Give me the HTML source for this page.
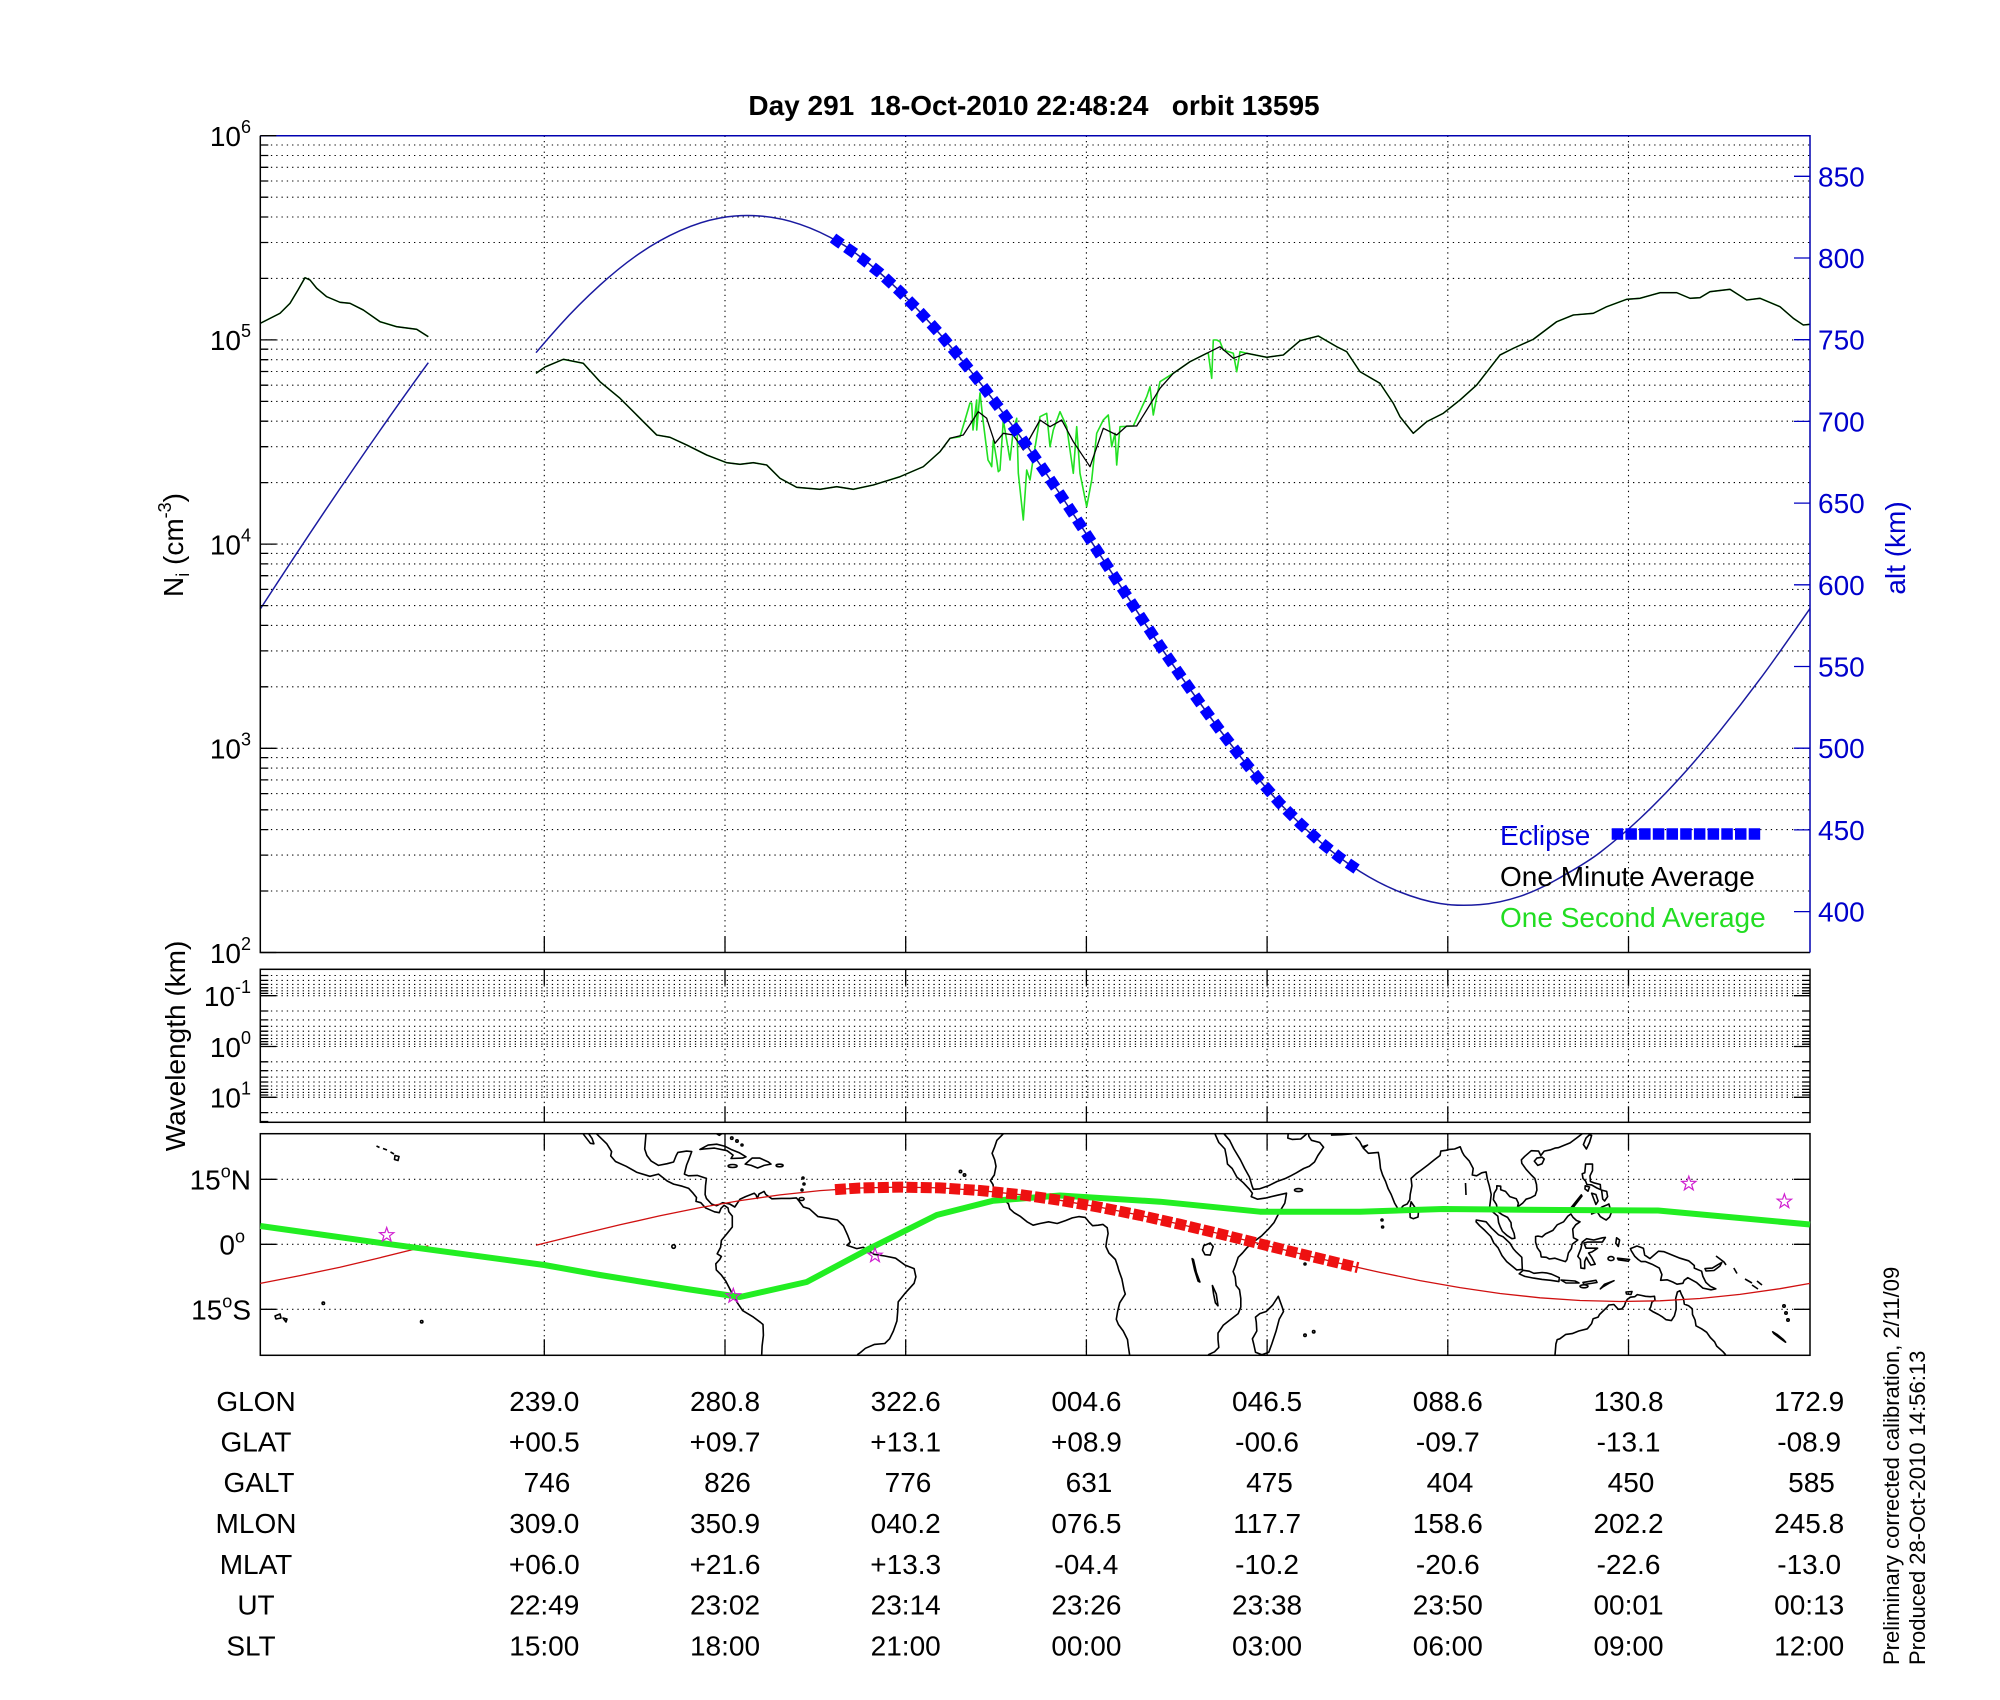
<!DOCTYPE html>
<html><head><meta charset="utf-8"><style>
html,body{margin:0;padding:0;background:#fff;}
svg{display:block;}
text{font-family:"Liberation Sans",Arial,sans-serif;font-size:28px;}
</style></head><body>
<svg width="2000" height="1700" viewBox="0 0 2000 1700" xmlns="http://www.w3.org/2000/svg">
<rect x="0" y="0" width="2000" height="1700" fill="#fff"/>

<!-- ============ GRIDS ============ -->
<g fill="none" stroke="#000" stroke-width="1.1" stroke-dasharray="1.3 4">
<path d="M260.3 145H1810M260.3 155.5H1810M260.3 167.3H1810M260.3 181H1810M260.3 197.2H1810M260.3 217H1810M260.3 242.5H1810M260.3 278.4H1810M260.3 339.9H1810
M260.3 349.2H1810M260.3 359.7H1810M260.3 371.5H1810M260.3 385.2H1810M260.3 401.4H1810M260.3 421.2H1810M260.3 446.7H1810M260.3 482.6H1810M260.3 544.1H1810
M260.3 553.4H1810M260.3 563.9H1810M260.3 575.7H1810M260.3 589.4H1810M260.3 605.6H1810M260.3 625.4H1810M260.3 650.9H1810M260.3 686.8H1810M260.3 748.3H1810
M260.3 757.6H1810M260.3 768.1H1810M260.3 779.9H1810M260.3 793.6H1810M260.3 809.8H1810M260.3 829.6H1810M260.3 855.1H1810M260.3 891H1810"/>
<path d="M544.3 135.7V952.5M725 135.7V952.5M905.7 135.7V952.5M1086.4 135.7V952.5M1267.1 135.7V952.5M1447.8 135.7V952.5M1628.5 135.7V952.5"/>
<path d="M260.3 975.5H1810M260.3 980.4H1810M260.3 984.4H1810M260.3 987.8H1810M260.3 990.8H1810M260.3 993.4H1810M260.3 995.7H1810
M260.3 1011H1810M260.3 1019.9H1810M260.3 1026.3H1810M260.3 1031.2H1810M260.3 1035.2H1810M260.3 1038.6H1810M260.3 1041.6H1810M260.3 1044.2H1810M260.3 1046.5H1810
M260.3 1061.8H1810M260.3 1070.7H1810M260.3 1077.1H1810M260.3 1082H1810M260.3 1086H1810M260.3 1089.4H1810M260.3 1092.4H1810M260.3 1095H1810M260.3 1097.3H1810M260.3 1112.6H1810"/>
<path d="M544.3 969.3V1122.3M725 969.3V1122.3M905.7 969.3V1122.3M1086.4 969.3V1122.3M1267.1 969.3V1122.3M1447.8 969.3V1122.3M1628.5 969.3V1122.3"/>
<path d="M260.3 1179.3H1810M260.3 1244.3H1810M260.3 1309.3H1810"/>
<path d="M544.3 1133.7V1355.3M725 1133.7V1355.3M905.7 1133.7V1355.3M1086.4 1133.7V1355.3M1267.1 1133.7V1355.3M1447.8 1133.7V1355.3M1628.5 1133.7V1355.3"/>
</g>

<!-- ============ TOP PANEL DATA ============ -->
<!-- altitude -->
<g fill="none" stroke="#1a1aa0" stroke-width="1.5" stroke-linejoin="round">
<path d="M260.3,609 C316,523 372,440 428.3,362.7"/>
<path d="M536,352.7 C544,343.1 552,333.9 560,325.1 C573.3,310.4 586.7,297.2 600,285.1 C613.3,273 626.7,262.2 640,253.1 C653.3,244 666.7,236.6 680,230.7 C693.3,224.8 706.7,220.4 720,218 C733.3,215.6 746.7,215 760,216 C773.3,217.1 786.7,219.8 800,224.3 C813.3,228.8 826.7,235 840,242.8 C853.3,250.6 866.7,261.4 880,273 C893.3,284.6 906.7,297.7 920,312 C933.3,326.3 946.7,341.5 960,357.8 C973.3,374.1 986.7,390.9 1000,408.8 C1013.3,426.7 1026.7,445.2 1040,464.5 C1053.3,483.8 1066.7,504 1080,524.3 C1093.3,544.6 1106.7,564.9 1120,585.3 C1133.3,605.7 1146.7,626.2 1160,645.9 C1173.3,665.6 1186.7,684.5 1200,703 C1213.3,721.5 1226.7,739.3 1240,756.1 C1253.3,772.9 1266.7,789.2 1280,803.5 C1293.3,817.8 1306.7,830.3 1320,841.7 C1333.3,853.1 1346.7,863.1 1360,871.5 C1373.3,879.9 1386.7,886.7 1400,892 C1413.3,897.3 1426.7,901.3 1440,903.5 C1453.3,905.7 1466.7,905.7 1480,904.6 C1493.3,903.6 1506.7,900.8 1520,896.3 C1533.3,891.8 1546.7,885.5 1560,877.7 C1573.3,869.9 1586.7,862.8 1600,852.5 C1613.3,842.2 1626.7,831.1 1640,818.5 C1653.3,805.9 1666.7,792.5 1680,777.8 C1693.3,763.1 1706.7,747.3 1720,730.8 C1733.3,714.3 1746.7,697 1760,679.1 C1776.7,656.8 1793.3,632.4 1810,608.6"/>
</g>
<!-- one second avg (green) -->
<g fill="none" stroke="#22e022" stroke-width="1.6" stroke-linejoin="round">
<path d="M260.3,323.3 L280,313.3 290,303.3 298,290 305,277.7 310,280 316.7,288.3 326.7,296.7 340,302.3 350,303.3 363.3,310 380,321.7 396.7,326.7 416.7,329.3 428.3,336.7"/>
<path d="M536,373.3 L545,367 563.3,359.3 583.3,363.3 600,381.7 620,398.3 636.7,415 656.7,435 670,437.3 686.7,445 706.7,455 726.7,462.7 740,464.3 753.3,462.7 766.7,465 780,478.3 796.7,487.3 820,489.3 836.7,486.7 853.3,489.3 873.3,485 900,476.7 923.3,466.7 940,451.7 950,438.3 960,436.7 965,420 970,403 971.7,403.3 973,430 976.7,400 976.7,430 980,393 983,420 988,460 990,463.3 991.7,466.7 993.3,440 996.7,460 998.3,471.7 1000,470 1003.3,420 1010,460 1013.3,430 1016.7,418.3 1018.3,473 1023.3,520 1026.7,470 1030,480 1033,460 1040,416.7 1046.7,413.3 1050,446.7 1053.3,430 1060,411.7 1066.7,426.7 1073.3,473.3 1076.7,426.7 1080,473.3 1086.7,506.7 1091.7,480 1096.7,433.3 1103.3,420 1108.3,415 1111.7,446.7 1115,433.3 1116.7,465 1120,426.7 1133.3,426 1146.7,396.7 1150,386.7 1153.3,415 1156.7,396.7 1160,381.7 1173.3,373.3 1190,361.7 1206.7,353.3 1208.3,353.3 1211.7,378.3 1213.3,340 1216.7,340 1220,341.7 1223.3,350 1233.3,353.3 1236.7,371.7 1240,351.7 1246.7,353.3 1266.7,357.3 1283.3,355 1300,340.7 1318.3,336 1336.7,346.7 1346.7,351.7 1360,371.7 1380,383.3 1393.3,403.3 1400,416.7 1413.3,433.3 1426.7,421.7 1443.3,413.3 1460,400 1476.7,385 1500,355 1513.3,348.3 1533.3,339.3 1556.7,321.7 1573.3,315 1593.3,313.3 1606.7,306.7 1626.7,299.3 1640,298.3 1660,292.7 1676.7,292.7 1690,298.3 1700,297.7 1710,291.7 1730,289.3 1746.7,300 1760,298.3 1780,306.7 1793.3,318.3 1803.3,325 1810,324.3"/>
</g>
<!-- one minute avg (black) -->
<g fill="none" stroke="#000" stroke-width="1.3" stroke-linejoin="round">
<path d="M260.3,323.3 L280,313.3 290,303.3 298,290 305,277.7 310,280 316.7,288.3 326.7,296.7 340,302.3 350,303.3 363.3,310 380,321.7 396.7,326.7 416.7,329.3 428.3,336.7"/>
<path d="M536,373.3 L545,367 563.3,359.3 583.3,363.3 600,381.7 620,398.3 636.7,415 656.7,435 670,437.3 686.7,445 706.7,455 726.7,462.7 740,464.3 753.3,462.7 766.7,465 780,478.3 796.7,487.3 820,489.3 836.7,486.7 853.3,489.3 873.3,485 900,476.7 923.3,466.7 940,451.7 950,438.3 963.3,435 978.3,411.7 986.7,418.3 995,443.3 1003.3,433.3 1013.3,435 1023.3,450 1040,420 1050,426.7 1061.7,420 1073.3,441.7 1090,466.7 1103.3,428.3 1116.7,435 1126.7,426 1136.7,426 1146.7,410 1160,388.3 1173.3,373.3 1190,361.7 1206.7,353.3 1220,346.7 1233.3,358.3 1246.7,353.3 1266.7,357.3 1283.3,355 1300,340.7 1318.3,336 1336.7,346.7 1346.7,351.7 1360,371.7 1380,383.3 1393.3,403.3 1400,416.7 1413.3,433.3 1426.7,421.7 1443.3,413.3 1460,400 1476.7,385 1500,355 1513.3,348.3 1533.3,339.3 1556.7,321.7 1573.3,315 1593.3,313.3 1606.7,306.7 1626.7,299.3 1640,298.3 1660,292.7 1676.7,292.7 1690,298.3 1700,297.7 1710,291.7 1730,289.3 1746.7,300 1760,298.3 1780,306.7 1793.3,318.3 1803.3,325 1810,324.3"/>
</g>
<!-- eclipse markers -->
<path d="M833,238 L838,241.7 860,257 880,273 900,291.6 920,312 940,334 960,357.8 980,382.6 1000,408.8 1020,436 1040,464.5 1060,494 1080,524.3 1100,554.8 1120,585.3 1140,615.8 1160,645.9 1180,674.8 1200,703 1220,730.2 1240,756.1 1260,780.6 1280,803.5 1300,823.5 1320,841.7 1340,857.7 1358,870" fill="none" stroke="#0000ff" stroke-width="11" stroke-dasharray="10.5 5.8"/>

<!-- legend -->
<text x="1500" y="845" fill="#0000dd">Eclipse</text>
<path d="M1611.7 834H1762" stroke="#0000ff" stroke-width="11.5" stroke-dasharray="11.5 2.2" fill="none"/>
<text x="1500" y="886" fill="#000">One Minute Average</text>
<text x="1500" y="927" fill="#22dd22">One Second Average</text>

<!-- ============ AXES / TICKS ============ -->
<g fill="none" stroke="#000" stroke-width="1.5">
<path d="M260.3 135.7V952.5H1810"/>
<rect x="260.3" y="969.3" width="1549.7" height="153"/>
<rect x="260.3" y="1133.7" width="1549.7" height="221.6"/>
</g>
<path d="M260.3 135.7H1810V952.5" fill="none" stroke="#0000b0" stroke-width="1.5"/>
<g fill="none" stroke="#000" stroke-width="1.3">
<path d="M260.3 135.7h16M260.3 339.9h16M260.3 544.1h16M260.3 748.3h16M260.3 952.5h16
M260.3 145h8M260.3 155.5h8M260.3 167.3h8M260.3 181h8M260.3 197.2h8M260.3 217h8M260.3 242.5h8M260.3 278.4h8
M260.3 349.2h8M260.3 359.7h8M260.3 371.5h8M260.3 385.2h8M260.3 401.4h8M260.3 421.2h8M260.3 446.7h8M260.3 482.6h8
M260.3 553.4h8M260.3 563.9h8M260.3 575.7h8M260.3 589.4h8M260.3 605.6h8M260.3 625.4h8M260.3 650.9h8M260.3 686.8h8
M260.3 757.6h8M260.3 768.1h8M260.3 779.9h8M260.3 793.6h8M260.3 809.8h8M260.3 829.6h8M260.3 855.1h8M260.3 891h8"/>
<path d="M544.3 952.5v-16M725 952.5v-16M905.7 952.5v-16M1086.4 952.5v-16M1267.1 952.5v-16M1447.8 952.5v-16M1628.5 952.5v-16"/>
<path d="M544.3 969.3v16M725 969.3v16M905.7 969.3v16M1086.4 969.3v16M1267.1 969.3v16M1447.8 969.3v16M1628.5 969.3v16
M544.3 1122.3v-16M725 1122.3v-16M905.7 1122.3v-16M1086.4 1122.3v-16M1267.1 1122.3v-16M1447.8 1122.3v-16M1628.5 1122.3v-16
M260.3 995.7h16M260.3 1046.5h16M260.3 1097.3h16M1810 995.7h-16M1810 1046.5h-16M1810 1097.3h-16
M260.3 975.5h8M260.3 980.4h8M260.3 984.4h8M260.3 987.8h8M260.3 990.8h8M260.3 993.4h8
M260.3 1011h8M260.3 1019.9h8M260.3 1026.3h8M260.3 1031.2h8M260.3 1035.2h8M260.3 1038.6h8M260.3 1041.6h8M260.3 1044.2h8
M260.3 1061.8h8M260.3 1070.7h8M260.3 1077.1h8M260.3 1082h8M260.3 1086h8M260.3 1089.4h8M260.3 1092.4h8M260.3 1095h8M260.3 1112.6h8M260.3 1121.5h8
M1810 975.5h-8M1810 980.4h-8M1810 984.4h-8M1810 987.8h-8M1810 990.8h-8M1810 993.4h-8
M1810 1011h-8M1810 1019.9h-8M1810 1026.3h-8M1810 1031.2h-8M1810 1035.2h-8M1810 1038.6h-8M1810 1041.6h-8M1810 1044.2h-8
M1810 1061.8h-8M1810 1070.7h-8M1810 1077.1h-8M1810 1082h-8M1810 1086h-8M1810 1089.4h-8M1810 1092.4h-8M1810 1095h-8M1810 1112.6h-8"/>
<path d="M544.3 1133.7v16M725 1133.7v16M905.7 1133.7v16M1086.4 1133.7v16M1267.1 1133.7v16M1447.8 1133.7v16M1628.5 1133.7v16
M544.3 1355.3v-16M725 1355.3v-16M905.7 1355.3v-16M1086.4 1355.3v-16M1267.1 1355.3v-16M1447.8 1355.3v-16M1628.5 1355.3v-16
M260.3 1179.3h16M260.3 1244.3h16M260.3 1309.3h16M1810 1179.3h-16M1810 1244.3h-16M1810 1309.3h-16"/>
</g>
<path d="M1810 176.3h-16M1810 258h-16M1810 339.7h-16M1810 421.4h-16M1810 503.1h-16M1810 584.8h-16M1810 666.5h-16M1810 748.2h-16M1810 829.9h-16M1810 911.6h-16" stroke="#0000c0" stroke-width="1.3" fill="none"/>

<!-- ============ MAP ============ -->
<g fill="none" stroke="#000" stroke-width="1.6" stroke-linejoin="round">
<path d="M376.5,1146 L379.5,1147.5M383,1148.5 L387,1150M390.5,1152 L394,1154M395,1155.5 L399,1156.5 398,1160.5 394.5,1159.5Z"/>
<path d="M275,1316 L280,1314 281,1318 276,1319Z M283,1318 L287,1319 286,1322Z"/>
<circle cx="323.3" cy="1303.3" r="1.2"/><circle cx="421.7" cy="1321.7" r="1.2"/>
<path d="M583.1,1133.8 L590.4,1143.3 593.9,1143.8 592.1,1138.6 588.7,1133.8"/>
<path d="M596.5,1133.8 L606.8,1143.8 611.6,1151.6 610.7,1155.9 615.5,1161.5 626.2,1166.3 637,1172.4 649.9,1176.3 658.5,1174.1 667.2,1181 673.6,1184.1 682.2,1186.2 688.7,1188.4 693.1,1193.2 696.5,1197.5 696,1201.4 700.8,1202.7 705.5,1207.9 708.5,1209.2 714.5,1211.8 719.3,1212.7 721,1208.3 724.1,1205.3 728,1207.9 728.8,1211.8 732.3,1216.1 732.3,1227 727.1,1233.5 721.4,1240.4 720.6,1247.3 717.2,1253.8 721.4,1256.4 719.7,1259.5 715.8,1263.8 716.3,1269.9 721.4,1275.1 725.8,1281.1 731.4,1292 737.4,1302.8 742.6,1310.6 753.4,1317.1 760.4,1322.3 763,1324.5 763.4,1335.3 762.1,1346.1 761.7,1354.8"/>
<path d="M646,1133.8 L644.7,1149 646.9,1155.5 651.2,1161.1 658.5,1165.4 667.2,1163.7 673.6,1162 676.2,1155.5 677.9,1152.4 686.6,1151.1 691.7,1151.6 688.7,1159.8 686.6,1165 684.4,1174.1 688.3,1175.8 697.3,1175.4 706.4,1178.4 705.5,1185.8 705.1,1194.5 706.4,1198.4 711.5,1204 716.7,1205.7 722.7,1202.7 729.7,1204 734.8,1207 740,1199.2 745.6,1196.6 754.2,1193.2 756,1194.9 757.3,1198.4 759,1194 764.1,1191.4 765.8,1194.5 771.9,1198.8 781.3,1198.4 790,1198.4 796.4,1197.9 799,1201 803.4,1207 809.4,1208.8 818,1216.6 828.8,1218.3 837.4,1220 843.5,1226.1 847.8,1235.6 850.3,1242.1 846.9,1245.2 856.8,1248.6 863.3,1247.3 874.1,1254.3 884.8,1256 895.6,1258.2 905.1,1265.1 914.1,1268.6 915.9,1276.8 914.1,1283.3 905.5,1292.8 898.2,1301.9 897.7,1311.5 896.9,1321 893.4,1331 889.6,1338.8 884.8,1343.5 874.5,1344.4 865.4,1348.3 860.3,1352.6 857.2,1354.8"/>
<path d="M716.7,1133.8 L719.3,1135.3 721.5,1133.8"/>
<path d="M699.9,1149.4 L708.1,1145.1 716.7,1144.2 725.3,1146.4 731.8,1149.8 739.6,1152.9 746,1156.8 742.6,1158.1 731,1158.5 733.1,1155.1 727.1,1150.7 714.5,1148.1 703.8,1149Z"/>
<path d="M745.2,1164.1 L752.1,1158.1 759.8,1158.1 768.4,1162 771,1164.1 764.1,1165.4 757.6,1168 751.2,1165.4Z"/>
<ellipse cx="732.6" cy="1166" rx="4.5" ry="1.5"/><ellipse cx="779.6" cy="1165.5" rx="3.5" ry="1.3"/>
<circle cx="731.8" cy="1138.1" r="1.2"/><circle cx="737" cy="1141" r="1.2"/><circle cx="742" cy="1145" r="1"/>
<circle cx="803" cy="1178" r="1"/><circle cx="804" cy="1184" r="1"/><circle cx="802" cy="1190" r="1"/>
<ellipse cx="801.6" cy="1199" rx="2.5" ry="1.5"/>
<circle cx="673.6" cy="1246.5" r="1.8"/>
<circle cx="964.5" cy="1175" r="1.2"/><circle cx="960.5" cy="1171.5" r="1.2"/>
<path d="M1003.3,1133.8 L996.9,1140.3 994.7,1146.8 992.1,1153.3 994.7,1159.8 996,1166.3 994.3,1175 990.4,1180.6 993,1184.5 993.8,1191 999,1195.3 1003.3,1198.8 1008.5,1204 1009.8,1208.8 1014.1,1212.7 1020.6,1216.6 1027,1221.8 1033.1,1225.2 1040,1223.5 1048.6,1221.8 1057.2,1223.5 1065.8,1220.5 1072.3,1217.9 1078.8,1216.6 1085.2,1217.4 1089.5,1222.6 1092.6,1225.7 1098.2,1225.2 1102.9,1224.4 1107.2,1227.8 1108.1,1233.5 1106.8,1240 1105.9,1246.5 1108.9,1253 1115.4,1259.5 1117.6,1266 1118.8,1270.3 1121.9,1279 1124,1289.8 1125.3,1294.1 1119.7,1302.8 1117.6,1311.5 1116.3,1319.3 1118.4,1324.5 1123.2,1331 1127.5,1339.6 1128.3,1346.1 1129.6,1354.8"/>
<path d="M1214.9,1133.8 L1218.8,1142.5 1224.9,1149 1226.6,1157.6 1227.5,1164.1 1232.2,1168.5 1236.9,1177.1 1243.4,1182.8 1249,1188.8 1252.4,1193.2 1251.2,1196.6 1257.6,1199.2 1266.2,1197.9 1277,1195.3 1286.5,1193.2 1285.6,1198.8 1284.8,1203.1 1279.6,1211.8 1274,1222.6 1268.4,1229.1 1261.9,1235.6 1253.3,1242.1 1246.9,1247.8 1242.5,1253 1238.2,1257.3 1235.6,1265.1 1233.1,1271.6 1235.2,1276.8 1236.1,1285.5 1239.5,1289.8 1240.8,1298.5 1240.8,1307.1 1238.2,1313.6 1230.9,1319.3 1223.2,1325.3 1218,1333.1 1218,1339.6 1218.8,1347.4 1214.5,1351.8 1208.1,1354.8"/>
<path d="M1203.8,1245.6 L1210.2,1243 1213.2,1246.5 1210.2,1255.1 1205,1254.7 1202.5,1250Z"/>
<path d="M1192.1,1258.6 L1194.7,1270.3 1198.1,1281.1 1199.9,1282 1196.4,1272.5 1193.4,1259.5Z"/>
<path d="M1212.4,1285.5 L1216.3,1294.1 1218,1305.8 1215.4,1302.8 1213.6,1294.1Z"/>
<path d="M1278.3,1296.3 L1282.2,1307.1 1283.5,1311.5 1279.2,1319.3 1276.1,1331 1271.8,1344 1268.8,1352.2 1261.9,1354.8 1255.5,1352.2 1253.7,1344 1252.4,1338.8 1256.8,1331 1256.3,1322.3 1255.5,1317.1 1259.8,1313.6 1266.2,1311.5 1272.7,1305Z"/>
<circle cx="1305" cy="1335.3" r="1.2"/><circle cx="1313.7" cy="1331.8" r="1.2"/><circle cx="1305" cy="1264" r="1"/>
<ellipse cx="1298.5" cy="1190.1" rx="4" ry="1.5"/>
<path d="M1224,1133.8 L1229.6,1140.3 1233.9,1149 1240.4,1159.8 1244.7,1168.5 1249.5,1177.1 1252,1185.8 1253.3,1189.3 1259.8,1188.8 1268.4,1185.8 1277,1181.5 1285.6,1178.4 1290.8,1175.8 1296.4,1172.8 1303.7,1168.5 1309.3,1166.3 1314.5,1162 1317.9,1155.5 1323.6,1147.2 1319.7,1142.5 1311.5,1140.3 1308.9,1136.4 1308.5,1133.8"/>
<path d="M1306.8,1133.8 L1303.7,1136.5 1300.7,1139 1292.1,1139.4 1287.8,1138.1 1288.2,1133.8"/>
<path d="M1330.9,1135.1 L1341.7,1134.7 1352.4,1133.8"/>
<path d="M1355.5,1136.8 L1359.7,1141.6 1362.4,1146.8 1367.5,1145.1 1363.2,1148.1 1368.4,1153.3 1378.3,1152.4 1379.6,1159.8 1380.5,1168.5 1382.6,1175 1385.6,1181.5 1388.2,1188.8 1391.2,1194.5 1394.6,1203.1 1397.7,1208.3 1400.3,1209.2 1403.3,1205.7 1407.2,1204 1409.8,1199.7 1410.2,1194.5 1411.9,1185.8 1411.1,1178.4 1416.2,1173.7 1420.5,1170.6 1427.9,1165 1434.4,1159.8 1440,1155.5 1440.8,1151.1 1446,1150.3 1449.4,1149.4 1454.6,1149 1460.2,1146.8 1462.4,1152.4 1464.2,1155.5 1469.3,1161.1 1473.2,1168.5 1472.3,1175 1476.6,1175.8 1481.7,1172.8 1486.1,1171.9 1487.4,1179.3 1489.3,1185.8 1491.2,1194.5 1490.4,1201 1489.5,1208.3 1492.5,1211.8 1497.8,1216.1 1498.6,1222.6 1500.3,1227 1502.4,1231.3 1507.2,1235.6 1511.9,1238.7 1514.9,1238.2 1514.1,1233.5 1511.4,1227 1511,1222.6 1507.6,1217.4 1502.4,1214.8 1498,1211.8 1496.4,1204.4 1493.4,1199.7 1494.2,1193.2 1496.8,1188.8 1496.8,1185.8 1500.7,1186.2 1500.7,1189.7 1505.5,1191.4 1509.8,1196.6 1516.3,1198.8 1518.4,1203.1 1517.5,1207 1522.7,1203.1 1526.1,1199.2 1530.4,1197.9 1535.2,1195.3 1536.9,1190.1 1536.5,1184.5 1534.8,1178.4 1531.3,1175 1526.1,1169.3 1521.8,1163.3 1521.4,1159.8 1524.8,1156.3 1528.3,1153.3 1531.3,1150.7 1538.6,1151.1 1540.8,1155.5 1544.2,1151.1 1550.7,1149.8 1555,1148.1 1558.2,1147.7 1563.6,1145.5 1570.1,1142.9 1576.5,1138.1 1580.9,1134.7 1582.2,1133.8"/>
<path d="M1410.2,1217.4 L1409.8,1209.6 1411.1,1201.8 1415,1207.5 1418.4,1212.7 1418,1217 1413.2,1218.7Z"/>
<path d="M1534.3,1161.1 L1537.8,1165.4 1542.1,1163.7 1544.2,1159 1542.1,1157.2 1536.9,1158.1Z"/>
<path d="M1583.4,1144.6 L1586.4,1149 1589.5,1142.5 1591.6,1135.5 1589.5,1134.7 1586,1138.1Z"/>
<path d="M1465.5,1183 L1466,1195"/>
<circle cx="1382.6" cy="1227" r="1"/><circle cx="1382" cy="1220" r="1"/>
<path d="M1476.3,1220 L1486.1,1221.8 1491.2,1227.8 1498.6,1234.8 1503.3,1236.9 1509.8,1243 1513.2,1248.6 1516.3,1252.1 1521.8,1257.3 1522.3,1269.4 1516.7,1269.9 1511.4,1265.5 1506.7,1261.6 1502,1255.6 1498.1,1247.8 1493.8,1243 1490.8,1236.5 1484.8,1230.4 1479.6,1225.7 1476.1,1221.8Z"/>
<path d="M1519.2,1273.8 L1523.1,1270.3 1529.2,1271.2 1533.9,1273.3 1542.1,1272.5 1546.4,1272.9 1551.6,1274.2 1559.3,1277.7 1558.9,1281.6 1550.7,1280.3 1542.1,1279.4 1533.5,1278.1 1524.8,1276.4Z"/>
<path d="M1561,1280 L1575,1281 1579,1283 1566,1283Z M1583,1282.4 L1596,1280.3 1597,1282.5 1584,1284.5Z M1600.3,1288.9 L1604.6,1284.2 1614,1280.7 1608.9,1283.3 1602.4,1287.2Z"/>
<ellipse cx="1584" cy="1286.3" rx="4" ry="1.5"/>
<path d="M1535.6,1236.5 L1538.2,1236.1 1542.1,1236.9 1545.5,1233.9 1552.9,1230.4 1557.2,1224.8 1563.6,1221.8 1567.9,1216.1 1570.9,1214 1573.1,1217.4 1576.5,1220.5 1580,1221.8 1575.7,1224.8 1572.7,1229.1 1573.5,1237.8 1577.8,1240 1572.2,1244.3 1571.4,1248.6 1568.4,1253 1567,1259.5 1565.4,1261.6 1559.8,1259.9 1555,1258.2 1549.4,1259 1546.4,1257.3 1541.2,1256.9 1540.4,1252.1 1537.3,1247.8 1535.6,1242.1Z"/>
<path d="M1580.9,1268.1 L1580.4,1259.5 1577.8,1256.4 1580.9,1248.6 1582.2,1242.1 1586.5,1238.7 1593.8,1240 1602.4,1237.8 1605.4,1237.4 1602.4,1242.1 1596,1242.1 1587.4,1242.1 1583.9,1243 1586,1248.2 1590.3,1248.2 1597.6,1248.2 1592.4,1251.7 1588.6,1253 1591.6,1257.3 1595.2,1264.2 1590.9,1265.1 1588.6,1261.6 1586.5,1257.3 1584.7,1261.6 1584.7,1268.6Z"/>
<path d="M1585.6,1164.1 L1592.5,1164.1 1592.5,1170.6 1590,1175.8 1590.4,1181.5 1593.8,1182.8 1600.3,1184.5 1600.7,1189.7 1596.9,1188 1591.6,1184.9 1586.9,1184.5 1585.6,1181.1 1583,1178.4 1582.2,1173.7 1584.8,1172.8Z"/>
<path d="M1591.6,1214 L1592.9,1209.6 1598.5,1209.6 1601.9,1207 1606.2,1205.3 1608.9,1204 1611.3,1212.7 1609.6,1217 1606.2,1220 1603.7,1218.7 1600.3,1216.6 1597.2,1211.8Z"/>
<path d="M1601.6,1190.1 L1606.7,1191.4 1607.6,1196.6 1604.6,1201 1602.7,1199Z M1591.6,1193.2 L1595.9,1194.5 1598.1,1201 1595.9,1204.4 1593.8,1199Z M1570.9,1207.9 L1581.3,1194.9 1582,1196 1572,1209Z M1585.2,1185.8 L1589.5,1187 1588,1191.2 1585,1189Z"/>
<path d="M1616.6,1237.8 L1619.6,1240 1618.3,1246.5 1615.8,1243.4Z M1617.5,1258.2 L1629.6,1259.5 1628.3,1261.2 1618.4,1259.8Z"/>
<ellipse cx="1611" cy="1258.6" rx="3" ry="2"/>
<path d="M1630.4,1248.6 L1637,1246 1643.4,1248.2 1644.7,1255.1 1649.9,1258.6 1658.5,1251.2 1664.1,1251.7 1671.4,1254.7 1680,1258.2 1688.6,1260.8 1694.3,1265.5 1694.3,1268.1 1701.6,1271.2 1702.9,1276.4 1705.9,1282.4 1710.3,1286.3 1715.8,1288.9 1711,1289.8 1702.9,1288.1 1696.4,1282.4 1687.8,1277.7 1684.2,1280.3 1682.9,1283.3 1677,1284.2 1672.7,1282 1667.1,1279.8 1660.6,1280.3 1661.9,1274.6 1659.3,1268.1 1652,1264.2 1645.5,1261.6 1641.2,1261.6 1638.2,1259.5 1634.8,1256.4 1631.3,1250.8Z"/>
<path d="M1705,1268.6 L1712.3,1268.1 1718.8,1264.2 1721.8,1262.5 1720,1266 1714,1270.5 1706,1271Z M1716,1256 L1724,1262 1726,1265 M1733.8,1268 L1737,1273.5 M1745,1279 L1752,1283 M1752,1285 L1758,1289 M1757,1281 L1762,1285"/>
<circle cx="1784" cy="1306" r="1.2"/><circle cx="1786" cy="1313" r="1.2"/><circle cx="1788" cy="1320" r="1.2"/>
<path d="M1772.7,1331.8 L1777,1334.4 1783.4,1339.6 1785.6,1342.2 1781,1339 1774,1333.6Z"/>
<path d="M1555,1354.8 L1555.4,1350.5 1555.9,1344 1557.2,1339.6 1559.8,1338.8 1565.8,1334.4 1572.2,1333.6 1578.7,1331 1587.4,1328.8 1591.6,1323.6 1593.1,1318.8 1598.1,1317.1 1599.5,1314.5 1602.6,1311.5 1606.7,1307.6 1608.8,1305 1613.9,1304.5 1618.3,1309.3 1621.8,1308.9 1624.4,1305.8 1625.7,1301.9 1627.4,1299.3 1630.4,1297.2 1634.7,1296.7 1637.3,1294.6 1641.2,1295.4 1645.5,1296.3 1650.2,1296.7 1654.5,1296.3 1655,1300.2 1652,1301.9 1650.7,1307.1 1649.4,1309.3 1653.3,1311.9 1658.5,1314.5 1662.7,1317.1 1666.1,1319.7 1671.4,1320.6 1674.4,1315.8 1676.1,1309.3 1676.1,1302.8 1675.7,1298.5 1677.4,1292 1680,1290.7 1681.3,1294.1 1683.5,1298.5 1684.3,1304.1 1688.6,1305.8 1692.3,1308.9 1692.5,1314.5 1695.1,1320.1 1696,1325.8 1701.6,1328.8 1706.7,1332.3 1710.3,1337.5 1714.6,1341.8 1716.7,1346.1 1723.1,1351.8 1725.7,1354.8"/>
<path d="M1626,1292 L1632,1291.5 1631,1294.5 1626.5,1294Z"/>
</g>

<!-- satellite track (red) -->
<g fill="none" stroke="#d01010" stroke-width="1.3">
<path d="M260.3,1283.4 L300,1275.6 340,1267.2 380,1257.7 428.3,1245.8"/>
<path d="M536,1245.3 L580,1234.4 620,1224.8 660,1215.8 700,1207.6 740,1200.6 780,1194.9 820,1190.6 860,1188 900,1187.1 940,1187.9 980,1190.5 1020,1194.6 1060,1200.3 1100,1207.3 1140,1215.3 1180,1224.3 1220,1233.9 1260,1243.8 1300,1253.7 1340,1263.4 1380,1272.4 1420,1280.6 1460,1287.6 1500,1293.5 1540,1297.8 1580,1300.5 1620,1301.5 1660,1300.8 1700,1298.5 1740,1294.4 1780,1288.7 1810,1283.4"/>
</g>
<!-- magnetic equator (green) -->
<path d="M260.3,1226 L383.3,1243.3 544.3,1265 600,1275 686.7,1289 740,1297 806.7,1282 870,1248.3 936.7,1215 993.3,1200.7 1060,1195.5 1160,1201.7 1260,1211.7 1360,1211.7 1443,1209 1560,1210 1658,1210.5 1810,1224.5" fill="none" stroke="#22ee22" stroke-width="6" stroke-linejoin="round"/>
<!-- eclipse squares on track -->
<path d="M835,1189.6 L860,1188 900,1187.1 940,1187.9 980,1190.5 1020,1194.6 1060,1200.3 1100,1207.3 1140,1215.3 1180,1224.3 1220,1233.9 1260,1243.8 1300,1253.7 1340,1263.4 1358,1267.6" fill="none" stroke="#ee1111" stroke-width="11" stroke-dasharray="11 3.3"/>
<!-- stars -->
<g fill="none" stroke="#d020d0" stroke-width="1.2">
<polygon transform="translate(386.7,1235)" points="0,-7.5 1.76,-2.43 7.13,-2.32 2.85,0.93 4.41,6.07 0,3 -4.41,6.07 -2.85,0.93 -7.13,-2.32 -1.76,-2.43"/>
<polygon transform="translate(733.3,1296)" points="0,-7.5 1.76,-2.43 7.13,-2.32 2.85,0.93 4.41,6.07 0,3 -4.41,6.07 -2.85,0.93 -7.13,-2.32 -1.76,-2.43"/>
<polygon transform="translate(875,1255.5)" points="0,-7.5 1.76,-2.43 7.13,-2.32 2.85,0.93 4.41,6.07 0,3 -4.41,6.07 -2.85,0.93 -7.13,-2.32 -1.76,-2.43"/>
<polygon transform="translate(1688.8,1183.7)" points="0,-7.5 1.76,-2.43 7.13,-2.32 2.85,0.93 4.41,6.07 0,3 -4.41,6.07 -2.85,0.93 -7.13,-2.32 -1.76,-2.43"/>
<polygon transform="translate(1784.4,1201.5)" points="0,-7.5 1.76,-2.43 7.13,-2.32 2.85,0.93 4.41,6.07 0,3 -4.41,6.07 -2.85,0.93 -7.13,-2.32 -1.76,-2.43"/>
</g>

<!-- ============ TEXT ============ -->
<text x="1034" y="115" text-anchor="middle" font-weight="bold" style="white-space:pre">Day 291  18-Oct-2010 22:48:24   orbit 13595</text>

<g text-anchor="end">
<text x="251" y="146">10<tspan font-size="18" dy="-13">6</tspan></text>
<text x="251" y="350.2">10<tspan font-size="18" dy="-13">5</tspan></text>
<text x="251" y="554.4">10<tspan font-size="18" dy="-13">4</tspan></text>
<text x="251" y="758.6">10<tspan font-size="18" dy="-13">3</tspan></text>
<text x="251" y="962.8">10<tspan font-size="18" dy="-13">2</tspan></text>
<text x="251" y="1006">10<tspan font-size="18" dy="-13">-1</tspan></text>
<text x="251" y="1056.8">10<tspan font-size="18" dy="-13">0</tspan></text>
<text x="251" y="1107.6">10<tspan font-size="18" dy="-13">1</tspan></text>
<text x="251" y="1189.6">15<tspan font-size="18" dy="-12">o</tspan><tspan dy="12">N</tspan></text>
<text x="245" y="1254.6">0<tspan font-size="18" dy="-12">o</tspan></text>
<text x="251" y="1319.6">15<tspan font-size="18" dy="-12">o</tspan><tspan dy="12">S</tspan></text>
</g>

<g fill="#0000cc">
<text x="1818" y="186.3">850</text>
<text x="1818" y="268">800</text>
<text x="1818" y="349.7">750</text>
<text x="1818" y="431.4">700</text>
<text x="1818" y="513.1">650</text>
<text x="1818" y="594.8">600</text>
<text x="1818" y="676.5">550</text>
<text x="1818" y="758.2">500</text>
<text x="1818" y="839.9">450</text>
<text x="1818" y="921.6">400</text>
<text transform="translate(1905,548) rotate(-90)" text-anchor="middle">alt (km)</text>
</g>

<text transform="translate(183,545) rotate(-90)" text-anchor="middle">N<tspan font-size="18" dy="6">i</tspan><tspan dy="-6"> (cm</tspan><tspan font-size="18" dy="-12">-3</tspan><tspan dy="12">)</tspan></text>
<text transform="translate(185,1046) rotate(-90)" text-anchor="middle">Wavelength (km)</text>

<text transform="translate(1899,1665) rotate(-90)" style="font-size:22px">Preliminary corrected calibration, 2/11/09</text>
<text transform="translate(1925,1665) rotate(-90)" style="font-size:22px">Produced 28-Oct-2010 14:56:13</text>

<g text-anchor="middle">
<text x="256" y="1411">GLON</text>
<text x="256" y="1451.5">GLAT</text>
<text x="259" y="1492">GALT</text>
<text x="256" y="1533">MLON</text>
<text x="256" y="1574">MLAT</text>
<text x="256" y="1614.5">UT</text>
<text x="251" y="1655.4">SLT</text>

<text x="544.3" y="1411">239.0</text><text x="725" y="1411">280.8</text><text x="905.7" y="1411">322.6</text><text x="1086.4" y="1411">004.6</text><text x="1267.1" y="1411">046.5</text><text x="1447.8" y="1411">088.6</text><text x="1628.5" y="1411">130.8</text><text x="1809.2" y="1411">172.9</text>

<text x="544.3" y="1451.5">+00.5</text><text x="725" y="1451.5">+09.7</text><text x="905.7" y="1451.5">+13.1</text><text x="1086.4" y="1451.5">+08.9</text><text x="1267.1" y="1451.5">-00.6</text><text x="1447.8" y="1451.5">-09.7</text><text x="1628.5" y="1451.5">-13.1</text><text x="1809.2" y="1451.5">-08.9</text>

<text x="547" y="1492">746</text><text x="727.5" y="1492">826</text><text x="908" y="1492">776</text><text x="1089" y="1492">631</text><text x="1269.5" y="1492">475</text><text x="1450" y="1492">404</text><text x="1631" y="1492">450</text><text x="1811.5" y="1492">585</text>

<text x="544.3" y="1533">309.0</text><text x="725" y="1533">350.9</text><text x="905.7" y="1533">040.2</text><text x="1086.4" y="1533">076.5</text><text x="1267.1" y="1533">117.7</text><text x="1447.8" y="1533">158.6</text><text x="1628.5" y="1533">202.2</text><text x="1809.2" y="1533">245.8</text>

<text x="544.3" y="1574">+06.0</text><text x="725" y="1574">+21.6</text><text x="905.7" y="1574">+13.3</text><text x="1086.4" y="1574">-04.4</text><text x="1267.1" y="1574">-10.2</text><text x="1447.8" y="1574">-20.6</text><text x="1628.5" y="1574">-22.6</text><text x="1809.2" y="1574">-13.0</text>

<text x="544.3" y="1614.5">22:49</text><text x="725" y="1614.5">23:02</text><text x="905.7" y="1614.5">23:14</text><text x="1086.4" y="1614.5">23:26</text><text x="1267.1" y="1614.5">23:38</text><text x="1447.8" y="1614.5">23:50</text><text x="1628.5" y="1614.5">00:01</text><text x="1809.2" y="1614.5">00:13</text>

<text x="544.3" y="1655.4">15:00</text><text x="725" y="1655.4">18:00</text><text x="905.7" y="1655.4">21:00</text><text x="1086.4" y="1655.4">00:00</text><text x="1267.1" y="1655.4">03:00</text><text x="1447.8" y="1655.4">06:00</text><text x="1628.5" y="1655.4">09:00</text><text x="1809.2" y="1655.4">12:00</text>
</g>
</svg>
</body></html>
